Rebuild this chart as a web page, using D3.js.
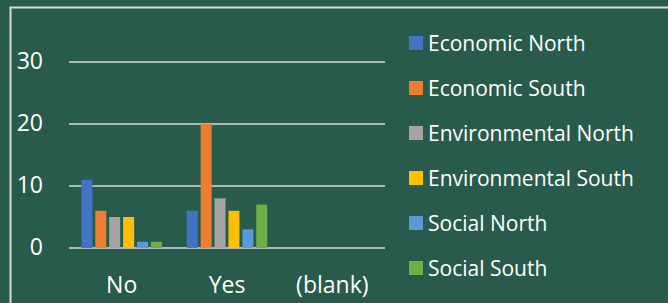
<!DOCTYPE html>
<html>
<head>
<meta charset="utf-8">
<script src="https://cdn.jsdelivr.net/npm/d3@7"></script>
<style>
html,body{margin:0;padding:0;background:#285B4B;}
svg{display:block;}
text{font-family:"Open Sans",sans-serif;fill:#ffffff;}
</style>
</head>
<body>
<svg id="chart" width="668" height="303"></svg>
<script>
const categories = ["No", "Yes", "(blank)"];
const seriesNames = ["Economic North", "Economic South", "Environmental North", "Environmental South", "Social North", "Social South"];
const seriesColors = ["#4472C4", "#ED7D31", "#A5A5A5", "#FFC000", "#5B9BD5", "#70AD47"];
const economicNorth = [11, 6, null];
const economicSouth = [6, 20, null];
const environmentalNorth = [5, 8, null];
const environmentalSouth = [5, 6, null];
const socialNorth = [1, 3, null];
const socialSouth = [1, 7, null];
const yTicks = [0, 10, 20, 30];

const seriesValues = [economicNorth, economicSouth, environmentalNorth, environmentalSouth, socialNorth, socialSouth];

const svg = d3.select("#chart");
const W = 668, H = 303;

svg.append("rect").attr("width", W).attr("height", H).attr("fill", "#285B4B");
// chart frame
svg.append("rect").attr("x", 10.5).attr("y", 7.5).attr("width", 720).attr("height", 400)
  .attr("fill", "none").attr("stroke", "#D9D9D9").attr("stroke-width", 2);

const plot = {left: 69, right: 385, top: 62, bottom: 248};
const x0 = d3.scaleBand().domain(categories).range([plot.left, plot.right]).padding(0);
const x1 = d3.scaleBand().domain(seriesNames).range([0, x0.bandwidth()]).paddingInner(0.21).paddingOuter(0.89);
const y = d3.scaleLinear().domain([0, 30]).range([plot.bottom, plot.top]);

// gridlines
svg.append("g").selectAll("line").data(yTicks).join("line")
  .attr("x1", plot.left).attr("x2", plot.right)
  .attr("y1", d => y(d)).attr("y2", d => y(d))
  .attr("stroke", "#D9D9D9").attr("stroke-width", 1.5);

// y tick labels
svg.append("g").selectAll("text").data(yTicks).join("text")
  .attr("x", 43).attr("y", d => y(d) + 6.5)
  .attr("text-anchor", "end").attr("font-size", 23)
  .text(d => d);

// bars
const groups = svg.append("g").selectAll("g").data(categories).join("g")
  .attr("transform", c => `translate(${x0(c)},0)`);
groups.selectAll("rect").data((c, ci) => seriesNames.map((s, si) => ({s, si, v: seriesValues[si][ci]})).filter(d => d.v != null))
  .join("rect")
  .attr("x", d => x1(d.s)).attr("width", x1.bandwidth())
  .attr("y", d => y(d.v)).attr("height", d => y(0) - y(d.v))
  .attr("fill", d => seriesColors[d.si]);

// category labels
svg.append("g").selectAll("text").data(categories).join("text")
  .attr("x", c => x0(c) + x0.bandwidth() / 2).attr("y", 293)
  .attr("text-anchor", "middle").attr("font-size", 23)
  .text(c => c);

// legend
const leg = svg.append("g").selectAll("g").data(seriesNames).join("g")
  .attr("transform", (d, i) => `translate(409,${43 + 45 * i})`);
leg.append("rect").attr("x", 0).attr("y", -7).attr("width", 14).attr("height", 14)
  .attr("fill", (d, i) => seriesColors[i]);
leg.append("text").attr("x", 19).attr("y", 7.5).attr("font-size", 21).text(d => d);
</script>
</body>
</html>
